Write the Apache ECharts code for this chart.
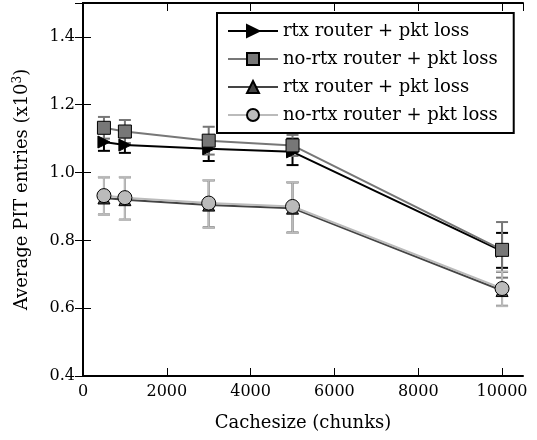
<!DOCTYPE html>
<html>
<head>
<meta charset="utf-8">
<script src="https://cdn.jsdelivr.net/npm/echarts@6/dist/echarts.min.js"></script>
<style>
  html, body { margin: 0; padding: 0; background: #fff; }
  #chart { width: 537px; height: 440px; }
</style>
</head>
<body>
<div id="chart"></div>
<script>
// Cache sizes (chunks) on the x axis
const cacheSizes = [500, 1000, 3000, 5000, 10000];

// Average PIT entries (x10^3) with error bar bounds
const rtxMean   = [1.090, 1.081, 1.070, 1.061, 0.768];
const rtxLow    = [1.064, 1.058, 1.034, 1.022, 0.719];
const rtxHigh   = [1.116, 1.104, 1.106, 1.100, 0.822];

const noRtxMean = [1.132, 1.121, 1.094, 1.080, 0.772];
const noRtxLow  = [1.100, 1.087, 1.053, 1.049, 0.690];
const noRtxHigh = [1.164, 1.155, 1.135, 1.111, 0.854];

const rtxMean2   = [0.925, 0.920, 0.904, 0.895, 0.652];
const rtxLow2    = [0.876, 0.861, 0.838, 0.823, 0.607];
const rtxHigh2   = [0.986, 0.986, 0.977, 0.971, 0.707];

const noRtxMean2 = [0.932, 0.926, 0.910, 0.900, 0.658];
const noRtxLow2  = [0.875, 0.860, 0.837, 0.822, 0.606];
const noRtxHigh2 = [0.987, 0.987, 0.978, 0.972, 0.708];

const xTicks = { min: 0, max: 10500, step: 2000 };
const yTicks = { min: 0.4, max: 1.5, step: 0.2 };

const seriesNames = [
  'rtx router + pkt loss',
  'no-rtx router + pkt loss',
  'rtx router + pkt loss ',   // trailing space keeps the legend entry distinct
  'no-rtx router + pkt loss '
];

const FONT = '"DejaVu Serif", "Liberation Serif", serif';

function pairs(ys) { return cacheSizes.map((x, i) => [x, ys[i]]); }

function errorBars(name, low, high, color) {
  return {
    type: 'custom',
    name: name,
    z: 1,
    silent: true,
    data: cacheSizes.map((x, i) => [x, low[i], high[i]]),
    encode: { x: 0, y: [1, 2] },
    renderItem: function (params, api) {
      const x = api.value(0);
      const lo = api.coord([x, api.value(1)]);
      const hi = api.coord([x, api.value(2)]);
      const half = 6;
      const style = { stroke: color, lineWidth: 2, fill: null };
      return {
        type: 'group',
        children: [
          { type: 'line', shape: { x1: lo[0], y1: lo[1], x2: hi[0], y2: hi[1] }, style: style },
          { type: 'line', shape: { x1: lo[0] - half, y1: lo[1], x2: lo[0] + half, y2: lo[1] }, style: style },
          { type: 'line', shape: { x1: hi[0] - half, y1: hi[1], x2: hi[0] + half, y2: hi[1] }, style: style }
        ]
      };
    }
  };
}

function lineSeries(name, ys, color, symbol, size, rotate, z) {
  return {
    type: 'line',
    name: name,
    data: pairs(ys),
    z: z,
    symbol: symbol,
    symbolSize: size,
    symbolRotate: rotate,
    showAllSymbol: true,
    lineStyle: { color: color, width: 2 },
    itemStyle: { color: color, borderColor: '#000', borderWidth: 1, opacity: 1 },
    emphasis: { disabled: true }
  };
}

const chart = echarts.init(document.getElementById('chart'), null, { renderer: 'canvas' });

const axisCommon = {
  type: 'value',
  axisLine: { show: true, lineStyle: { color: '#000', width: 2 } },
  axisTick: { show: true, inside: true, length: 8, lineStyle: { color: '#000', width: 1 } },
  splitLine: { show: false }
};

const tickFont = { fontFamily: FONT, fontSize: 16, color: '#000' };
const nameFont = { fontFamily: FONT, fontSize: 18, color: '#000' };

chart.setOption({
  animation: false,
  backgroundColor: '#fff',
  grid: { left: 83, right: 14, top: 3, bottom: 64, containLabel: false },
  xAxis: [
    Object.assign({}, axisCommon, {
      min: xTicks.min, max: xTicks.max, interval: xTicks.step,
      position: 'bottom',
      name: 'Cachesize (chunks)',
      nameLocation: 'middle',
      nameGap: 38,
      nameTextStyle: nameFont,
      axisLabel: Object.assign({ show: true, margin: 8, showMaxLabel: false, formatter: v => String(v) }, tickFont)
    }),
    Object.assign({}, axisCommon, {
      min: xTicks.min, max: xTicks.max, interval: xTicks.step,
      position: 'top',
      axisLabel: { show: false }
    })
  ],
  yAxis: [
    Object.assign({}, axisCommon, {
      min: yTicks.min, max: yTicks.max, interval: yTicks.step,
      position: 'left',
      name: 'Average PIT entries (x10{sup|3})',
      nameLocation: 'middle',
      nameGap: 50,
      nameRotate: 90,
      nameTextStyle: Object.assign({
        rich: { sup: { fontFamily: FONT, fontSize: 12, color: '#000', verticalAlign: 'top', padding: [0, 0, 9, 0] } }
      }, nameFont),
      axisLabel: Object.assign({ show: true, margin: 8, showMaxLabel: false, formatter: v => v.toFixed(1) }, tickFont)
    }),
    Object.assign({}, axisCommon, {
      min: yTicks.min, max: yTicks.max, interval: yTicks.step,
      position: 'right',
      axisLabel: { show: false }
    })
  ],
  legend: {
    data: seriesNames,
    orient: 'vertical',
    left: 217,
    top: 13,
    itemWidth: 50,
    itemHeight: 15,
    itemGap: 10,
    padding: [9, 16, 9, 10],
    backgroundColor: '#fff',
    borderColor: '#000',
    borderWidth: 2,
    borderRadius: 0,
    selectedMode: false,
    formatter: n => n.trim(),
    textStyle: nameFont
  },
  series: [
    errorBars('rtx err', rtxLow, rtxHigh, '#000'),
    errorBars('no-rtx err', noRtxLow, noRtxHigh, '#777'),
    errorBars('rtx err 2', rtxLow2, rtxHigh2, '#444'),
    errorBars('no-rtx err 2', noRtxLow2, noRtxHigh2, '#bbb'),
    lineSeries(seriesNames[0], rtxMean, '#000', 'triangle', 12, -90, 3),
    lineSeries(seriesNames[1], noRtxMean, '#777', 'rect', 13, 0, 4),
    lineSeries(seriesNames[2], rtxMean2, '#444', 'triangle', 12, 0, 3),
    lineSeries(seriesNames[3], noRtxMean2, '#bbb', 'circle', 14, 0, 4)
  ]
});
</script>
</body>
</html>
